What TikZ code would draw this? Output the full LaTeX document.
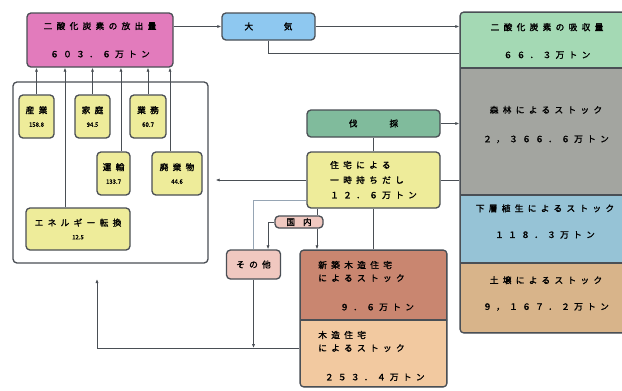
\documentclass[tikz,border=0pt]{standalone}
\usepackage{fontspec}
\usetikzlibrary{arrows.meta}
\newfontfamily\jp[LetterSpace=50,FakeBold=1.6]{Noto Sans CJK JP}
\newfontfamily\jpn[FakeBold=0.8]{Noto Sans CJK JP}
\definecolor{linec}{RGB}{74,79,85}
\definecolor{faintc}{RGB}{150,165,180}
\definecolor{pinkc}{RGB}{226,123,188}
\definecolor{bluec}{RGB}{142,200,240}
\definecolor{absorbc}{RGB}{164,217,180}
\definecolor{forestc}{RGB}{163,165,160}
\definecolor{underc}{RGB}{150,195,214}
\definecolor{soilc}{RGB}{216,180,138}
\definecolor{cutc}{RGB}{128,187,156}
\definecolor{yellowc}{RGB}{238,236,154}
\definecolor{palec}{RGB}{240,200,192}
\definecolor{newc}{RGB}{201,134,112}
\definecolor{housec}{RGB}{242,201,160}
\newcommand{\num}[1]{{\jpn\fontsize{4.5}{5}\selectfont #1}}
\tikzset{
  box/.style={draw=linec, line width=1pt, rounded corners=3pt, inner sep=0pt,
    font=\jp\fontsize{6.5}{8}\selectfont},
  blk/.style={draw=linec, line width=1pt, inner sep=0pt},
  sz/.style 2 args={minimum width=#1*0.75pt, minimum height=#2*0.75pt},
  txt/.style={inner sep=0pt, font=\jp\fontsize{6.5}{9.75}\selectfont},
  conn/.style={draw=linec, line width=0.6pt},
  >={Latex[length=3pt,width=2.4pt]}
}
\begin{document}
\begin{tikzpicture}[x=0.75pt,y=-0.75pt]
	\useasboundingbox (0,0) rectangle (622,390);
	\fill[white] (0,0) rectangle (622,390);
	% emissions
	\node[box, fill=pinkc, sz={146}{54}, align=center] (houshutsu) at (100,40)
		{二酸化炭素の放出量\\[13pt]６０３．６万トン};
	\node[box, fill=bluec, sz={93}{27}] (taiki) at (268.5,26.5) {大\hspace{23pt}気};
	\node[box, fill=white, sz={195}{181}] (bumon) at (110.5,172.5) {};
	\node[box, fill=yellowc, sz={35}{43}, align=center] (sangyo) at (36.5,116.5) {産業\\[2pt]\num{158.8}};
	\node[box, fill=yellowc, sz={35}{43}, align=center] (katei) at (92.5,116.5) {家庭\\[2pt]\num{94.5}};
	\node[box, fill=yellowc, sz={36}{43}, align=center] (gyomu) at (148,116.5) {業務\\[2pt]\num{60.7}};
	\node[box, fill=yellowc, sz={33}{43}, align=center] (unyu) at (113.5,173.5) {運輸\\[2pt]\num{133.7}};
	\node[box, fill=yellowc, sz={50}{43}, align=center] (haiki) at (177,173.5) {廃棄物\\[2pt]\num{44.6}};
	\node[box, fill=yellowc, sz={104}{42}, align=center] (energy) at (78,229) {エネルギー転換\\[2pt]\num{12.5}};
	\foreach \n/\dx in {sangyo/0,katei/0,gyomu/0,unyu/5.6,haiki/-5.25,energy/-9.75}
		\draw[conn,->] ([xshift=\dx pt]\n.north) -- ([xshift=\dx pt]\n.north |- houshutsu.south);
	% right column
	\begin{scope}
		\clip[rounded corners=3pt] (460,12) rectangle (634,333);
		\node[blk, fill=absorbc, sz={174}{56}] (kyushu) at (547,40) {};
		\node[blk, fill=forestc, sz={174}{127}] (shinrin) at (547,131.5) {};
		\node[blk, fill=underc, sz={174}{68}] (kasou) at (547,229) {};
		\node[blk, fill=soilc, sz={174}{70}] (dojou) at (547,298) {};
	\end{scope}
	\draw[linec, line width=1pt, rounded corners=3pt] (460,12) rectangle (634,333);
	\node[txt, align=center] (kyushu-t) at (547,41) {二酸化炭素の吸収量\\[11pt]６６．３万トン};
	\node[txt, align=center] (shinrin-t) at (546,124.5) {森林によるストック\\[12pt]２，３６６．６万トン};
	\node[txt, align=center] (kasou-t) at (545,221.5) {下層植生によるストック\\[10pt]１１８．３万トン};
	\node[txt, align=center] (dojou-t) at (546,293.5) {土壌によるストック\\[10pt]９，１６７．２万トン};
	% harvest and houses
	\node[box, fill=cutc, sz={133}{27}] (bassai) at (373.5,123.5) {伐\hspace{24pt}採};
	\node[box, fill=yellowc, sz={133}{56}, align=left, font=\jp\fontsize{6.5}{11.25}\selectfont]
		(jutaku) at (373.5,180) {住宅による\\一時持ちだし\\１２．６万トン};
	\node[box, fill=palec, sz={48}{12}] (kokunai) at (299,222) {国\hspace{6pt}内};
	\node[box, fill=palec, sz={54}{29}] (sonota) at (253.5,264.5) {その他};
	\begin{scope}
		\clip[rounded corners=3pt] (300,250) rectangle (447,387);
		\node[blk, fill=newc, sz={147}{70}] (shinchiku) at (373.5,285) {};
		\node[blk, fill=housec, sz={147}{67}] (mokuzou) at (373.5,353.5) {};
	\end{scope}
	\draw[linec, line width=1pt, rounded corners=3pt] (300,250) rectangle (447,387);
	\node[txt, anchor=west, align=left] (shinchiku-t) at (318,286)
		{新築木造住宅\\によるストック\\[12pt]\hspace*{16.5pt}９．６万トン};
	\node[txt, anchor=west, align=left] (mokuzou-t) at (318,356)
		{木造住宅\\によるストック\\[12pt]\hspace*{5pt}２５３．４万トン};
	\coordinate (kaeri) at (97,279);
	% connectors
	\draw[conn,->] (houshutsu.east |- taiki.west) -- (taiki.west);
	\draw[conn,->] (taiki.east) -- (taiki.east -| kyushu.west);
	\draw[conn] (taiki.south) |- ([yshift=-9.75pt]kyushu.west);
	\draw[conn,->] (bassai.east) -- (bassai.east -| shinrin.west);
	\draw[conn] (jutaku.east) -- (jutaku.east -| shinrin.west);
	\draw[conn] (bassai.south) -- (jutaku.north);
	\draw[conn] (jutaku.south) -- (jutaku.south |- shinchiku.north);
	\draw[conn,->,shorten >=5.25pt] (jutaku.west) -- (jutaku.west -| bumon.east);
	\draw[conn, draw=faintc] ([yshift=-15pt]jutaku.west) -| (sonota.north);
	\draw[conn] ([xshift=13.5pt]kokunai.north |- jutaku.south) -- ([xshift=13.5pt]kokunai.north);
	\draw[conn,->] ([xshift=13.5pt]kokunai.south) -- ([xshift=13.5pt]kokunai.south |- shinchiku.north);
	\draw[conn,->] (kokunai.west) -| ([xshift=10.9pt]sonota.north);
	\draw[conn,->] ([yshift=4.1pt]mokuzou.west) -| (kaeri);
	\draw[conn,->] (sonota.south) -- ([yshift=4.1pt]sonota.south |- mokuzou.west);
\end{tikzpicture}
\end{document}
